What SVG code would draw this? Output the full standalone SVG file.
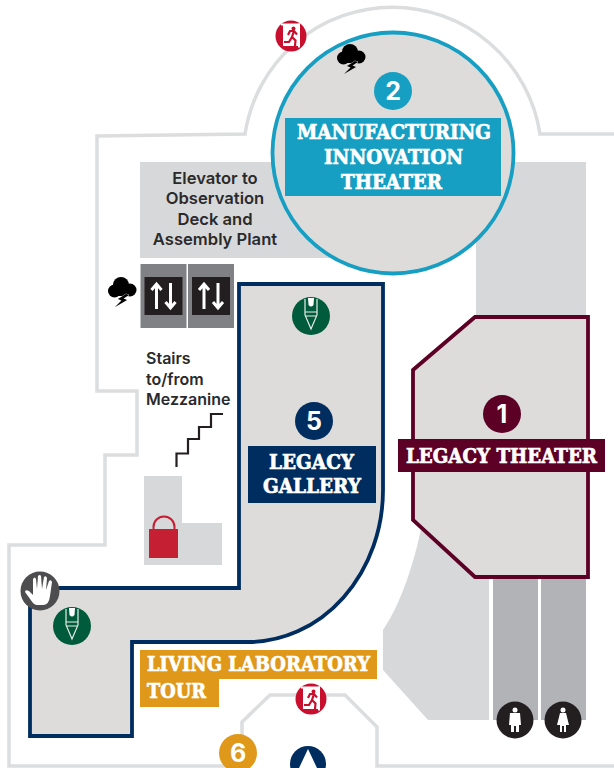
<svg xmlns="http://www.w3.org/2000/svg" width="614" height="768" viewBox="0 0 614 768">
<defs>
<style>
.wall{fill:none;stroke:#dcddde;stroke-width:3.500}
.floor{fill:#d7d8da}
.wc{fill:#b2b3b6}
.room{fill:#dddcdb;stroke-width:3.800}
.slab{font-family:"DejaVu Serif","Liberation Serif",serif;font-weight:700;font-size:20px;fill:#fff;stroke:#fff;stroke-width:.7}
.num{font-family:"Inter","Roboto",sans-serif;font-weight:700;font-size:25px;fill:#fff;text-anchor:middle}
.note{font-family:"Inter","Roboto",sans-serif;font-weight:600;font-size:16px;fill:#2b2a2b}
</style>
<g id="storm"><circle cx="-1" cy="-6" r="8"/><circle cx="-7.500" cy="0" r="6.500"/><circle cx="8" cy="-1" r="6.500"/><rect x="-7" y="-3" width="15" height="8"/><path d="M4 3-4 8-.5 9.500-7 16 5 9 1.500 7.500 7 4Z" stroke="#dddcdb" stroke-width=".8" paint-order="stroke"/></g>
<g id="exit"><circle r="15.500" fill="#c8102e"/><rect x="-8" y="-11" width="15.500" height="21" fill="#fff"/><rect x="-10" y="-12.500" width="19" height="2" fill="#fff"/><rect x="7" y="-12.500" width="2" height="24" fill="#fff"/><circle cx="2.500" cy="-7.500" r="2" fill="#c8102e"/><path d="M-3-1-1-5 3-5 6-1.500M3-5 1 1 4.500 4.500 4 10M1 1-2 6-7 6" fill="none" stroke="#c8102e" stroke-width="2.200"/></g>
<g id="marker"><circle r="19" fill="#005a3c"/><path d="M-3-18H3L2.500-11Q0-8-2.500-11Z" fill="#fff"/><path d="M-6-17V-1L0 13 6-1V-17M-6-4H6M-6 0H6" fill="none" stroke="#e9eee9" stroke-width="1.200"/></g>
<g id="lift"><rect x="-23" y="-32" width="46" height="64" fill="#808184"/><rect x="-19" y="-19" width="38" height="38" fill="#231f20"/><path d="M-7 13V-12M-12-6-7-12-2-6M7-13V12M2 6 7 12 12 6" fill="none" stroke="#fff" stroke-width="3"/></g>
</defs>

<g id="walls">
<path class="wall" d="M614 134H540A149.200 149.200 0 0 0 245 134L97 136V391H137V455H105V545H9V766H242V722L270 695H345L377 727V766H614"/>
</g>
<g id="floors">
<path class="floor" d="M476 162H586V330H476Z"/>
<rect class="floor" x="140" y="162" width="200" height="96"/>
<path class="floor" d="M425 510Q410 590 383 630V670L428 720H489V560L470 560Z"/>
<path class="floor" d="M144 476H182V523H222V565H144Z"/>
<rect class="wc" x="493" y="575" width="45" height="145"/>
<rect class="wc" x="541" y="575" width="45" height="145"/>
</g>

<g id="node-2">
<circle class="room" cx="393" cy="153" r="120.500" stroke="#169fc3"/>
<circle cx="393" cy="91" r="19" fill="#169fc3"/>
<text class="num" x="393" y="100">2</text>
<rect x="285" y="118" width="216" height="78" fill="#169fc3"/>
<text class="slab" x="297" y="139" textLength="194" lengthAdjust="spacingAndGlyphs">MANUFACTURING</text>
<text class="slab" x="324" y="164" textLength="139" lengthAdjust="spacingAndGlyphs">INNOVATION</text>
<text class="slab" x="341" y="189" textLength="101" lengthAdjust="spacingAndGlyphs">THEATER</text>
<use href="#storm" x="351" y="58"/>
</g>

<g id="node-elevator">
<text class="note" style="font-size:16.600px" text-anchor="middle"><tspan x="215" y="184">Elevator to</tspan><tspan x="215" y="204">Observation</tspan><tspan x="215" y="225">Deck and</tspan><tspan x="215" y="245">Assembly Plant</tspan></text>
<use href="#lift" x="163.500" y="296"/>
<use href="#lift" x="211" y="296"/>
<use href="#storm" x="122" y="291"/>
</g>

<g id="node-stairs">
<text class="note"><tspan x="146" y="364">Stairs</tspan><tspan x="146" y="385">to/from</tspan><tspan x="146" y="405">Mezzanine</tspan></text>
<path d="M176.500 467V453.500H188V439H199V427H211V414H223" fill="none" stroke="#231f20" stroke-width="2.200"/>
<path d="M153.500 529V527A10.500 10.500 0 0 1 174.500 527V529" fill="none" stroke="#c41f33" stroke-width="2"/>
<rect x="149" y="529" width="29" height="29" fill="#c41f33"/>
</g>

<g id="node-5">
<path class="room" stroke="#002d5f" d="M239 284H383V490A135 152 0 0 1 248 642H132V736H30V588H239Z"/>
<circle cx="314" cy="421" r="19" fill="#002d5f"/>
<text class="num" x="314" y="430">5</text>
<rect x="248" y="446" width="128" height="57" fill="#002d5f"/>
<text class="slab" x="269" y="469" textLength="85" lengthAdjust="spacingAndGlyphs">LEGACY</text>
<text class="slab" x="263" y="493" textLength="98" lengthAdjust="spacingAndGlyphs">GALLERY</text>
<use href="#marker" x="311" y="316"/>
<use href="#marker" x="72" y="626"/>
</g>

<g id="node-hand">
<circle cx="40" cy="591" r="19.500" fill="#4d4d4f"/>
<path d="M33 603 25 592Q25 589 29 591L33 595 33 579Q35 576 36 579L37 589 38 576Q40 574 41 576L42 589 44 577Q46 575 47 578L46 590 49 581Q51 579 52 582L50 596Q49 605 43 605H37Q35 605 33 603Z" fill="#fff"/>
</g>

<g id="node-1">
<path class="room" stroke="#5c0026" d="M475 317H588V577H475L413 520V370Z"/>
<circle cx="502" cy="414" r="19" fill="#5c0026"/>
<text class="num" x="502" y="423">1</text>
<rect x="398" y="439" width="207" height="33" fill="#5c0026"/>
<text class="slab" x="406" y="463" textLength="191" lengthAdjust="spacingAndGlyphs">LEGACY THEATER</text>
</g>

<g id="node-tour">
<path d="M140 650H377V679H219V707H140Z" fill="#df981a"/>
<text class="slab" x="147" y="671" textLength="223" lengthAdjust="spacingAndGlyphs">LIVING LABORATORY</text>
<text class="slab" x="147" y="698" textLength="59" lengthAdjust="spacingAndGlyphs">TOUR</text>
</g>

<g id="node-6">
<circle cx="238" cy="753" r="19" fill="#df981a"/>
<text class="num" x="238" y="762">6</text>
<circle cx="308" cy="764" r="18" fill="#002d5f"/>
<path d="M308 749 317 768H299Z" fill="#fff"/>
</g>

<g id="exits">
<use href="#exit" x="291" y="36"/>
<use href="#exit" x="311" y="699"/>
</g>

<g id="restrooms">
<circle cx="515" cy="720" r="18.500" fill="#231f20"/>
<circle cx="563" cy="720" r="18.500" fill="#231f20"/>
<circle cx="515" cy="710" r="2.500" fill="#fff"/>
<path d="M510 713H520L521 725H519V732H516V726H514V732H511V725H509Z" fill="#fff"/>
<circle cx="563" cy="710" r="2.500" fill="#fff"/>
<path d="M560 713H566L569 725H566V732H564V726H562V732H560V725H557Z" fill="#fff"/>
</g>
</svg>
